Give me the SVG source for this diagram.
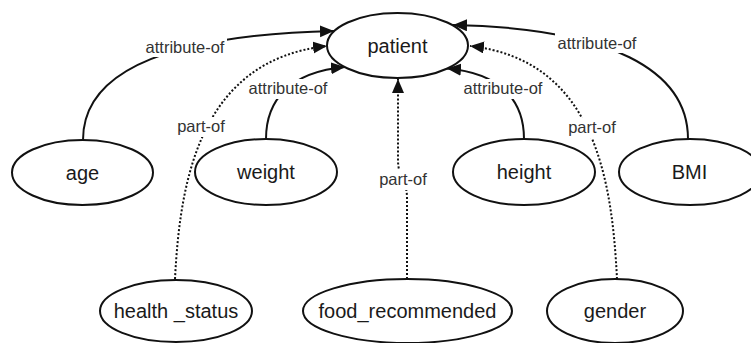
<svg xmlns="http://www.w3.org/2000/svg" width="751" height="343" viewBox="0 0 751 343">
  <style>
    .node ellipse { fill: #ffffff; stroke: #111111; stroke-width: 2; }
    .node text { font-family: "Liberation Sans", Arial, sans-serif; font-size: 20px; fill: #1a1a1a; text-anchor: middle; }
    .edge { fill: none; stroke: #111111; stroke-width: 2; }
    .solid { marker-end: url(#arrow); }
    .dotted { stroke-dasharray: 2 2; marker-end: url(#arrow); }
    .lbl rect { fill: #ffffff; }
    .lbl text { font-family: "Liberation Sans", Arial, sans-serif; font-size: 16.5px; fill: #333333; text-anchor: middle; }
  </style>
  <defs>
    <marker id="arrow" markerUnits="userSpaceOnUse" markerWidth="15" markerHeight="13" refX="14" refY="6" orient="auto">
      <path d="M0,0 L14,6 L0,12 Z" fill="#111111" stroke="none"/>
    </marker>
  </defs>
  <rect width="751" height="343" fill="#ffffff"/>

  <g id="connectors">
    <!-- age -> patient -->
    <path class="edge solid" d="M83,140 C83,70 170,35 334,31"/>
    <!-- health_status -> patient -->
    <path class="edge dotted" d="M175,279 C180,180 200,60 327,46"/>
    <!-- weight -> patient -->
    <path class="edge solid" d="M266,139 C266,100 290,72 345,67"/>
    <!-- food_recommended -> patient -->
    <path class="edge dotted" d="M407,279 L407,198 C407,180 398,178 398,160 L398,79"/>
    <!-- height -> patient -->
    <path class="edge solid" d="M524,139 C524,100 500,73 447,68.5"/>
    <!-- gender -> patient -->
    <path class="edge dotted" d="M617,279 C612,180 595,60 470,46"/>
    <!-- BMI -> patient -->
    <path class="edge solid" d="M688,139 C688,70 610,28 453,25"/>

    <g class="lbl">
      <rect x="143" y="37" width="84" height="20"/>
      <text x="185" y="53">attribute-of</text>
      <rect x="246" y="79" width="84" height="20"/>
      <text x="288" y="94">attribute-of</text>
      <rect x="461" y="79" width="84" height="20"/>
      <text x="503" y="94">attribute-of</text>
      <rect x="555" y="33" width="84" height="20"/>
      <text x="597" y="49">attribute-of</text>
      <rect x="175" y="117" width="52" height="20"/>
      <text x="201" y="132">part-of</text>
      <rect x="377" y="170" width="52" height="20"/>
      <text x="403" y="185">part-of</text>
      <rect x="566" y="118" width="52" height="20"/>
      <text x="592" y="133">part-of</text>
    </g>
  </g>

  <g id="patient" class="node">
    <ellipse cx="397.5" cy="45.5" rx="70.5" ry="32.5"/>
    <text x="397.5" y="52.5">patient</text>
  </g>
  <g id="age" class="node">
    <ellipse cx="82.5" cy="172.5" rx="70.5" ry="32.5"/>
    <text x="82.5" y="179.5">age</text>
  </g>
  <g id="weight" class="node">
    <ellipse cx="266" cy="172" rx="71" ry="33"/>
    <text x="266" y="179">weight</text>
  </g>
  <g id="height" class="node">
    <ellipse cx="524" cy="172" rx="71" ry="33"/>
    <text x="524" y="179">height</text>
  </g>
  <g id="BMI" class="node">
    <ellipse cx="690" cy="172" rx="71" ry="33"/>
    <text x="689.5" y="179">BMI</text>
  </g>
  <g id="health_status" class="node">
    <ellipse cx="176" cy="311" rx="76" ry="31"/>
    <text x="176" y="318">health _status</text>
  </g>
  <g id="food_recommended" class="node">
    <ellipse cx="407.5" cy="311" rx="104.5" ry="32"/>
    <text x="407.5" y="318">food_recommended</text>
  </g>
  <g id="gender" class="node">
    <ellipse cx="615" cy="311" rx="68" ry="32"/>
    <text x="615" y="318">gender</text>
  </g>
</svg>
